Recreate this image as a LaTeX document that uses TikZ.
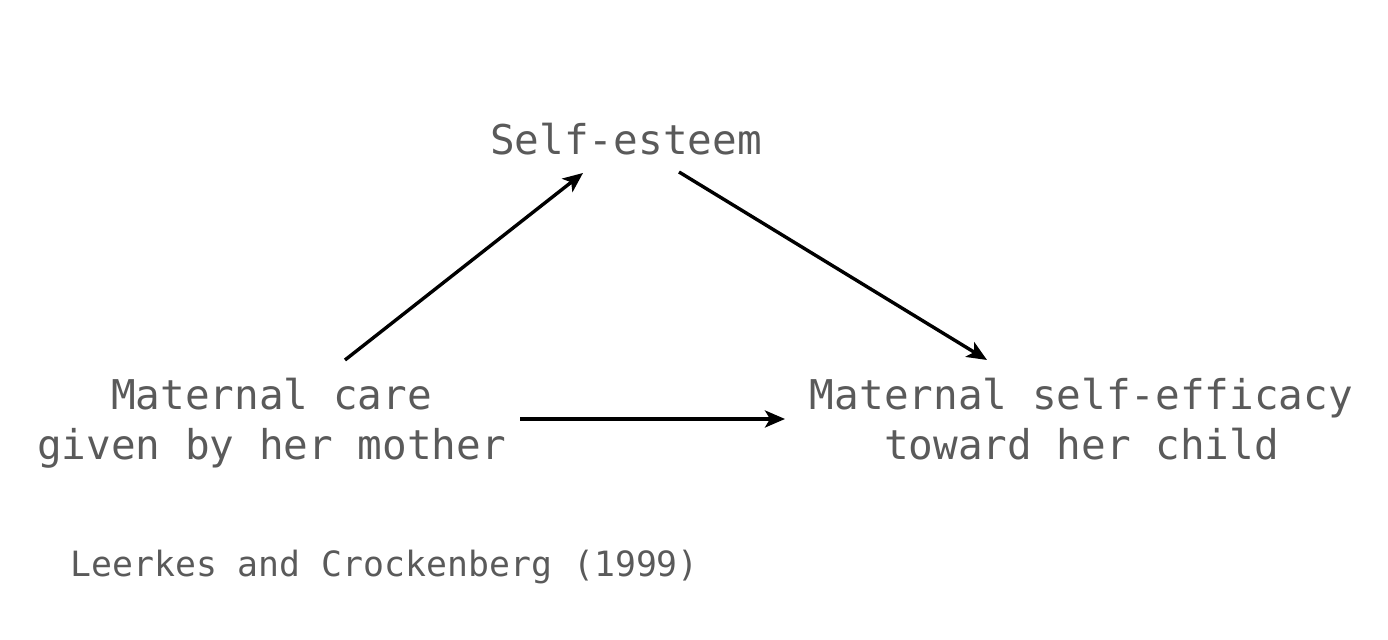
\documentclass[tikz,border=0pt]{standalone}
\usepackage{fontspec}
\setmonofont{DejaVu Sans Mono}
\usetikzlibrary{arrows.meta,calc}
\definecolor{txt}{HTML}{5A5A5A}
\begin{document}
\begin{tikzpicture}[x=0.5pt,y=0.5pt,
  lab/.style={font=\ttfamily\fontsize{20.5}{25}\selectfont, text=txt, inner sep=0pt, align=center},
  cite/.style={font=\ttfamily\fontsize{17.4}{21}\selectfont, text=txt, inner sep=0pt},
  arr/.style={line width=1.7pt, -{Stealth[length=10pt,width=8.5pt,inset=2.5pt]}}]
\useasboundingbox (0,0) rectangle (1388,640);
\node[lab, anchor=base] (se) at (626,485) {Self-esteem};
\node[lab, anchor=base] (mc) at (271.5,180) {Maternal care\\given by her mother};
\node[lab, anchor=base] (ms) at (1081.5,180) {Maternal self-efficacy\\toward her child};
\node[cite, anchor=base west] (ct) at (70,63) {Leerkes and Crockenberg (1999)};
\draw[arr] ($(mc.base)+(73.5,100)$) -- ($(se.base)+(-43,-18)$);
\draw[arr] ($(se.base)+(53,-17)$) -- ($(ms.base)+(-94.5,100)$);
\draw[arr] ($(mc.base)+(248.5,41)$) -- ($(ms.base)+(-296.5,41)$);
\end{tikzpicture}
\end{document}
